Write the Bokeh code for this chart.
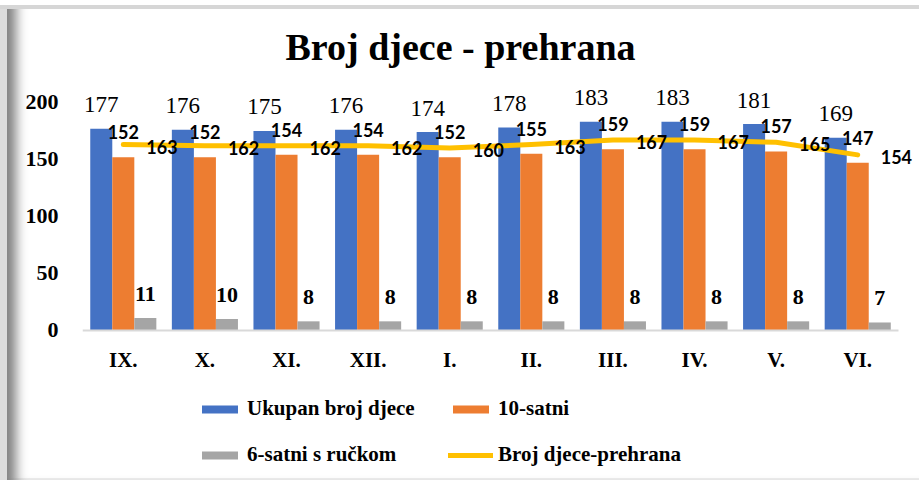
from bokeh.plotting import figure
from bokeh.models import Range1d, FixedTicker, Legend, LegendItem, ColumnDataSource
from bokeh.transform import dodge
from bokeh.core.properties import value
from bokeh.embed import file_html
from bokeh.resources import INLINE

# ---- data ----
months = ["IX.", "X.", "XI.", "XII.", "I.", "II.", "III.", "IV.", "V.", "VI."]
ukupan = [177, 176, 175, 176, 174, 178, 183, 183, 181, 169]
satni10 = [152, 152, 154, 154, 152, 155, 159, 159, 157, 147]
satni6 = [11, 10, 8, 8, 8, 8, 8, 8, 8, 7]
prehrana = [163, 162, 162, 162, 160, 163, 167, 167, 165, 154]
y_ticks = [0, 50, 100, 150, 200]

BLUE, ORANGE, GRAY, YELLOW = "#4472C4", "#ED7D31", "#A5A5A5", "#FFC000"
SERIF = "Liberation Serif"
SANS = "Lato"

xs = list(range(len(months)))
src = ColumnDataSource(dict(
    x=xs, uk=ukupan, s10=satni10, s6=satni6, pr=prehrana,
    uk_t=[str(v) for v in ukupan], s10_t=[str(v) for v in satni10],
    s6_t=[str(v) for v in satni6], pr_t=[str(v) for v in prehrana],
))

W, H = 919, 480
p = figure(width=W, height=H, output_backend="svg", toolbar_location=None,
           x_range=Range1d(-0.5, 9.757), y_range=Range1d(-131.6, 228),
           min_border_left=82, min_border_right=0, min_border_top=70,
           min_border_bottom=0)
p.background_fill_color = "white"
p.border_fill_color = None
p.background_fill_alpha = 0
p.outline_line_color = None
p.xgrid.visible = False
p.ygrid.visible = False

# title
p.title.text = "Broj djece - prehrana"
p.title.align = "left"
p.title.offset = 203
p.title.standoff = 6
p.title.text_font = SERIF
p.title.text_font_size = "38px"
p.title.text_font_style = "bold"
p.title.text_color = "black"

bw = 0.27
r_uk = p.vbar(x=dodge("x", -bw, range=p.x_range), top="uk", width=bw, source=src,
              fill_color=BLUE, line_color=None)
r_10 = p.vbar(x=dodge("x", 0, range=p.x_range), top="s10", width=bw, source=src,
              fill_color=ORANGE, line_color=None)
r_6 = p.vbar(x=dodge("x", bw, range=p.x_range), top="s6", width=bw, source=src,
             fill_color=GRAY, line_color=None)
r_pr = p.line(x="x", y="pr", source=src, line_color=YELLOW, line_width=5,
              line_join="round", line_cap="round")

# data labels
p.text(x=dodge("x", -bw, range=p.x_range), y="uk", text="uk_t", source=src,
       text_font=value(SERIF), text_font_size="23px", text_align="center",
       text_baseline="middle", y_offset=-24, text_color="black")
p.text(x=dodge("x", 0, range=p.x_range), y="s10", text="s10_t", source=src,
       text_font=value(SANS), text_font_size="18px", text_font_style="bold",
       text_align="center", text_baseline="middle", y_offset=-25, text_color="black")
p.text(x=dodge("x", bw, range=p.x_range), y="s6", text="s6_t", source=src,
       text_font=value(SERIF), text_font_size="22px", text_font_style="bold",
       text_align="center", text_baseline="middle", y_offset=-24, text_color="black")
p.text(x="x", y="pr", text="pr_t", source=src,
       text_font=value(SANS), text_font_size="18px", text_font_style="bold",
       text_align="left", text_baseline="middle", x_offset=23, y_offset=2,
       text_color="black")

# axes
p.yaxis.ticker = FixedTicker(ticks=y_ticks)
p.yaxis.axis_line_color = None
p.yaxis.major_tick_line_color = None
p.yaxis.minor_tick_line_color = None
p.yaxis.major_label_text_font = SERIF
p.yaxis.major_label_text_font_size = "22px"
p.yaxis.major_label_text_font_style = "bold"
p.yaxis.major_label_text_color = "black"
p.yaxis.major_label_standoff = 18

p.xaxis.fixed_location = 0
p.xaxis.ticker = FixedTicker(ticks=xs)
p.xaxis.major_label_overrides = {i: m for i, m in enumerate(months)}
p.xaxis.bounds = (-0.5, 9.5)
p.xaxis.axis_line_color = "#D9D9D9"
p.xaxis.axis_line_width = 2
p.xaxis.major_tick_line_color = None
p.xaxis.minor_tick_line_color = None
p.xaxis.major_label_text_font = SERIF
p.xaxis.major_label_text_font_size = "21px"
p.xaxis.major_label_text_font_style = "bold"
p.xaxis.major_label_text_color = "black"
p.xaxis.major_label_standoff = 12

# legend (column-major order so rows read: Ukupan | 10-satni / 6-satni | Broj)
legend = Legend(items=[
    LegendItem(label="Ukupan broj djece", renderers=[r_uk]),
    LegendItem(label="6-satni s ručkom", renderers=[r_6]),
    LegendItem(label="10-satni", renderers=[r_10]),
    LegendItem(label="Broj djece-prehrana", renderers=[r_pr]),
], ncols=2, location=(115, 13))
legend.glyph_width = 45
legend.glyph_height = 10
legend.label_standoff = 5
legend.label_width = 180
legend.label_height = 24
legend.spacing = 21
legend.padding = 0
legend.margin = 0
legend.border_line_color = None
legend.background_fill_alpha = 0
legend.label_text_font = SERIF
legend.label_text_font_size = "21px"
legend.label_text_font_style = "bold"
legend.label_text_color = "black"
legend.label_text_baseline = "middle"
p.add_layout(legend, "center")

p.styles = {"box-shadow": (
    "inset 0 5px 0 0 #ffffff, inset 0 9px 0 0 #d6d6d6, "
    "inset 7px 0 0 0 #dcdcdc, inset 24px 0 12px -8px #808080, "
    "inset 0 -2px 0 0 #eeeeee")}

open("out.html", "w").write(file_html(p, INLINE))
